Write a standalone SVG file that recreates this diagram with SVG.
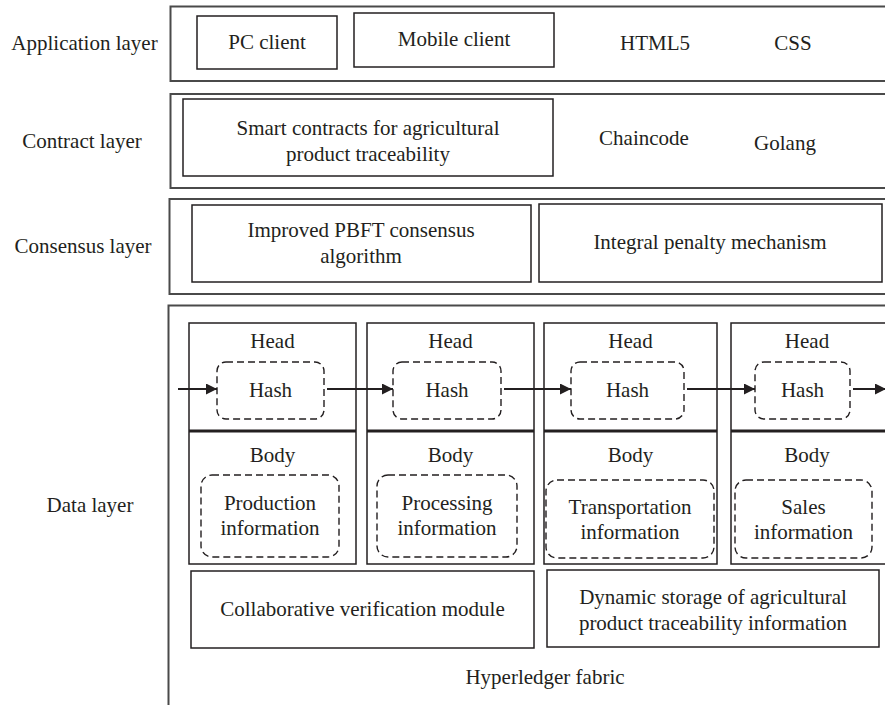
<svg xmlns="http://www.w3.org/2000/svg" width="885" height="705" viewBox="0 0 885 705" font-family="'Liberation Serif', 'Times New Roman', serif" font-size="21">
  <defs>
    <style>
      text { font-family: 'Liberation Serif', 'Times New Roman', serif; font-size: 21px; fill: #231f20; text-anchor: middle; }
      .layer { fill: none; stroke: #4a4a4a; stroke-width: 2; }
      .box { fill: none; stroke: #231f20; stroke-width: 1.5; }
      .dash { fill: none; stroke: #231f20; stroke-width: 1.4; stroke-dasharray: 7 4; }
      .sep { stroke: #231f20; stroke-width: 2.8; }
      .link { stroke: #231f20; stroke-width: 2; fill: none; marker-end: url(#arrow); }
    </style>
    <marker id="arrow" viewBox="0 0 10 10" refX="10" refY="5" markerWidth="5.5" markerHeight="5.5" markerUnits="strokeWidth" orient="auto">
      <path d="M0,0 L10,5 L0,10 z" fill="#231f20"/>
    </marker>
  </defs>
  <rect width="885" height="705" fill="#ffffff"/>

  <!-- Layer labels -->
  <g id="labels">
    <text x="84.5" y="50">Application layer</text>
    <text x="82" y="148">Contract layer</text>
    <text x="83" y="253">Consensus layer</text>
    <text x="90" y="512">Data layer</text>
  </g>

  <!-- Application layer -->
  <g id="application-layer">
    <rect class="layer" x="170.5" y="6.5" width="725" height="74.5"/>
    <g id="pc-client">
      <rect class="box" x="197" y="16" width="140" height="53"/>
      <text x="267" y="49">PC client</text>
    </g>
    <g id="mobile-client">
      <rect class="box" x="354" y="13" width="200" height="54"/>
      <text x="454" y="46">Mobile client</text>
    </g>
    <text x="655" y="50">HTML5</text>
    <text x="793" y="50">CSS</text>
  </g>

  <!-- Contract layer -->
  <g id="contract-layer">
    <rect class="layer" x="170.5" y="94" width="725" height="94"/>
    <g id="smart-contracts">
      <rect class="box" x="183" y="99" width="370" height="77"/>
      <text x="368" y="135">Smart contracts for agricultural</text>
      <text x="368" y="161">product traceability</text>
    </g>
    <text x="644" y="145">Chaincode</text>
    <text x="785" y="150">Golang</text>
  </g>

  <!-- Consensus layer -->
  <g id="consensus-layer">
    <rect class="layer" x="169.5" y="199" width="725" height="95"/>
    <g id="pbft">
      <rect class="box" x="192" y="205" width="339" height="77"/>
      <text x="361" y="237">Improved PBFT consensus</text>
      <text x="361" y="263">algorithm</text>
    </g>
    <g id="penalty">
      <rect class="box" x="539" y="204" width="343" height="78"/>
      <text x="710" y="249">Integral penalty mechanism</text>
    </g>
  </g>

  <!-- Data layer -->
  <g id="data-layer">
    <rect class="layer" x="168.5" y="305.5" width="725" height="410"/>

    <g id="block-production">
      <rect class="box" x="189" y="323" width="167" height="241"/>
      <line class="sep" x1="189" y1="431" x2="356" y2="431"/>
      <text x="272.5" y="348">Head</text>
      <rect class="dash" x="217" y="362" width="107" height="57" rx="9"/>
      <text x="270.5" y="397">Hash</text>
      <text x="272.5" y="462">Body</text>
      <rect class="dash" x="201" y="475" width="138" height="82" rx="11"/>
      <text x="270" y="510">Production</text>
      <text x="270" y="535">information</text>
    </g>

    <g id="block-processing">
      <rect class="box" x="367" y="323" width="167" height="241"/>
      <line class="sep" x1="367" y1="431" x2="534" y2="431"/>
      <text x="450.5" y="348">Head</text>
      <rect class="dash" x="393" y="362" width="108" height="57" rx="9"/>
      <text x="447" y="397">Hash</text>
      <text x="450.5" y="462">Body</text>
      <rect class="dash" x="377" y="475" width="140" height="82" rx="11"/>
      <text x="447" y="510">Processing</text>
      <text x="447" y="535">information</text>
    </g>

    <g id="block-transportation">
      <rect class="box" x="544" y="323" width="173" height="241"/>
      <line class="sep" x1="544" y1="431" x2="717" y2="431"/>
      <text x="630.5" y="348">Head</text>
      <rect class="dash" x="571" y="362" width="113" height="57" rx="9"/>
      <text x="627.5" y="397">Hash</text>
      <text x="630.5" y="462">Body</text>
      <rect class="dash" x="546" y="480" width="168" height="78" rx="11"/>
      <text x="630" y="514">Transportation</text>
      <text x="630" y="539">information</text>
    </g>

    <g id="block-sales">
      <rect class="box" x="731" y="323" width="170" height="241"/>
      <line class="sep" x1="731" y1="431" x2="901" y2="431"/>
      <text x="807" y="348">Head</text>
      <rect class="dash" x="755" y="362" width="95" height="57" rx="9"/>
      <text x="802.5" y="397">Hash</text>
      <text x="807" y="462">Body</text>
      <rect class="dash" x="735" y="480" width="137" height="78" rx="11"/>
      <text x="803.5" y="514">Sales</text>
      <text x="803.5" y="539">information</text>
    </g>

    <g id="collaborative-verification">
      <rect class="box" x="191" y="571" width="343" height="77"/>
      <text x="362.5" y="616">Collaborative verification module</text>
    </g>
    <g id="dynamic-storage">
      <rect class="box" x="547" y="570" width="332" height="77"/>
      <text x="713" y="604">Dynamic storage of agricultural</text>
      <text x="713" y="630">product traceability information</text>
    </g>
    <text x="545" y="684">Hyperledger fabric</text>
  </g>

  <!-- Hash chain links -->
  <g id="connectors">
    <line class="link" x1="178" y1="389" x2="217" y2="389"/>
    <line class="link" x1="327" y1="389" x2="393" y2="389"/>
    <line class="link" x1="504" y1="389" x2="571" y2="389"/>
    <line class="link" x1="687" y1="389" x2="755" y2="389"/>
    <line class="link" x1="853" y1="389" x2="886" y2="389"/>
  </g>
</svg>
